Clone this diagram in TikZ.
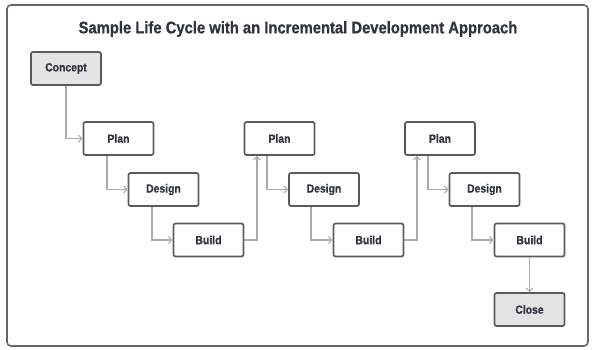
\documentclass[tikz,border=0pt]{standalone}
\usepackage{fontspec}
\newfontfamily\condbold{Liberation Sans Bold}[FakeStretch=0.88,FakeBold=0.6]
\usetikzlibrary{arrows.meta}
\definecolor{boxline}{HTML}{5A5A5A}
\definecolor{connline}{HTML}{ABABAB}
\definecolor{txt}{HTML}{2E3340}
\definecolor{grayfill}{HTML}{E4E4E4}
\tikzset{
  stage/.style={draw=boxline, line width=1.7pt, rounded corners=2pt, fill=white,
    minimum width=70pt, minimum height=33pt, inner sep=0pt,
    font=\condbold\fontsize{11.8}{13}\selectfont, text=txt},
  endstage/.style={stage, fill=grayfill},
  conn/.style={draw=connline, line width=1.1pt, -{Straight Barb[length=3.5pt,width=7pt,line width=1pt]}},
}
\begin{document}
\begin{tikzpicture}[x=1pt,y=-1pt]
\useasboundingbox (0,0) rectangle (592,349);
\draw[draw=gray!80!black, line width=1.6pt, rounded corners=4pt] (7,5) rectangle (588,346);
\node[font=\condbold\fontsize{16.8}{18}\selectfont, text=txt] (title) at (298,29) {Sample Life Cycle with an Incremental Development Approach};
\node[endstage] (c) at (66,68.5) {Concept};
\node[stage] (p1) at (118.5,138.5) {Plan};
\node[stage] (d1) at (163.5,189.5) {Design};
\node[stage] (b1) at (208.5,240) {Build};
\node[stage] (p2) at (279.5,138.5) {Plan};
\node[stage] (d2) at (324,189.5) {Design};
\node[stage] (b2) at (368.5,240) {Build};
\node[stage] (p3) at (440,138.5) {Plan};
\node[stage] (d3) at (484.5,189.5) {Design};
\node[stage] (b3) at (529.5,240) {Build};
\node[endstage] (cl) at (529.5,309.5) {Close};
\draw[conn] (c.south) |- (p1.west);
\draw[conn] ([xshift=-11.5pt]p1.south) |- (d1.west);
\draw[conn] ([xshift=-11.5pt]d1.south) |- (b1.west);
\draw[conn] (b1.east) -| ([xshift=-22.5pt]p2.south);
\draw[conn] ([xshift=-12.5pt]p2.south) |- (d2.west);
\draw[conn] ([xshift=-13pt]d2.south) |- (b2.west);
\draw[conn] (b2.east) -| ([xshift=-23pt]p3.south);
\draw[conn] ([xshift=-12pt]p3.south) |- (d3.west);
\draw[conn] ([xshift=-12.5pt]d3.south) |- (b3.west);
\draw[conn] (b3.south) -- (cl.north);
\end{tikzpicture}
\end{document}
